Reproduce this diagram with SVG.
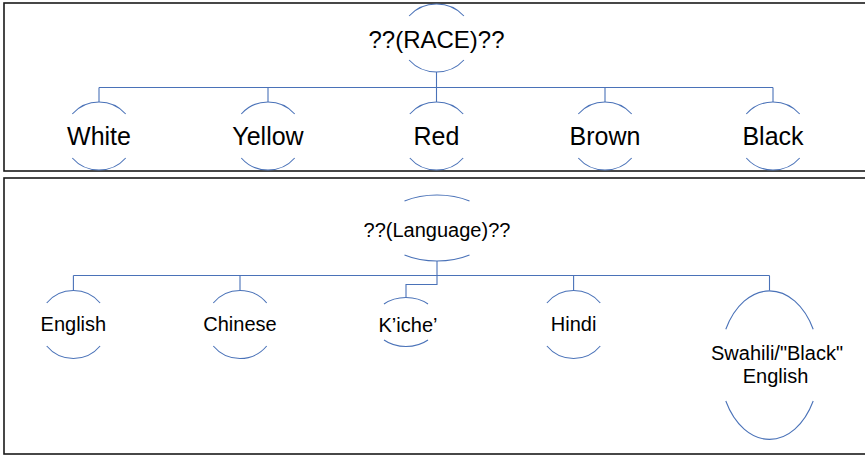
<svg xmlns="http://www.w3.org/2000/svg" width="865" height="457" viewBox="0 0 865 457">
<style>
.panel{fill:#fff;stroke:#1a1a1a;stroke-width:1.6}
.arc{fill:none;stroke:#4a72b8;stroke-width:1.1}
.conn{fill:none;stroke:#4a72b8;stroke-width:1.1}
text{font-family:"Liberation Sans",Arial,sans-serif;fill:#000;text-anchor:middle}
.t1{font-size:25px}
.t0{font-size:24px}
.t2{font-size:20px}
</style>
<rect width="865" height="457" fill="#fff"/>
<rect class="panel" x="4" y="3" width="875" height="168"/>
<rect class="panel" x="4" y="178" width="875" height="276"/>
<g id="connectors">
<path class="conn" d="M436.5,72 V87.5 M99,87.5 H773 M99,87.5 V102 M268,87.5 V102 M436.5,87.5 V102 M605,87.5 V102 M773,87.5 V102"/>
<path class="conn" d="M437,261 V275.5 M73.4,275.5 H769.5 M73.4,275.5 V290.5 M240,275.5 V290.5 M573.6,275.5 V290.5 M769.5,275.5 V290.5 M437,275.5 V284.5 H406 V297.5"/>
</g>
<g id="race">
<path class="arc" d="M409.1,16 A36 34 0 0 1 463.9,16 M409.1,60 A36 34 0 0 0 463.9,60"/>
<text class="t0" x="436.5" y="48">??(RACE)??</text>
</g>
<g id="white">
<path class="arc" d="M72.3,114 A35 34 0 0 1 125.7,114 M72.3,158 A35 34 0 0 0 125.7,158"/>
<text class="t1" x="99" y="145">White</text>
</g>
<g id="yellow">
<path class="arc" d="M241.3,114 A35 34 0 0 1 294.7,114 M241.3,158 A35 34 0 0 0 294.7,158"/>
<text class="t1" x="268" y="145">Yellow</text>
</g>
<g id="red">
<path class="arc" d="M409.8,114 A35 34 0 0 1 463.2,114 M409.8,158 A35 34 0 0 0 463.2,158"/>
<text class="t1" x="436.5" y="145">Red</text>
</g>
<g id="brown">
<path class="arc" d="M578.3,114 A35 34 0 0 1 631.7,114 M578.3,158 A35 34 0 0 0 631.7,158"/>
<text class="t1" x="605" y="145">Brown</text>
</g>
<g id="black">
<path class="arc" d="M746.3,114 A35 34 0 0 1 799.7,114 M746.3,158 A35 34 0 0 0 799.7,158"/>
<text class="t1" x="773" y="145">Black</text>
</g>
<g id="language">
<path class="arc" d="M404.5,201 A56.5 33 0 0 1 469.5,201 M404.5,255 A56.5 33 0 0 0 469.5,255"/>
<text class="t2" x="437" y="236.5">??(Language)??</text>
</g>
<g id="english">
<path class="arc" d="M46.7,303 A34.5 34 0 0 1 100.1,303 M46.7,346 A34.5 34 0 0 0 100.1,346"/>
<text class="t2" x="73.4" y="330.5">English</text>
</g>
<g id="chinese">
<path class="arc" d="M213.3,303 A34.5 34 0 0 1 266.7,303 M213.3,346 A34.5 34 0 0 0 266.7,346"/>
<text class="t2" x="240" y="330.5">Chinese</text>
</g>
<g id="kiche">
<path class="arc" d="M384,304 A32.4 24.5 0 0 1 428,304 M384,340 A32.4 24.5 0 0 0 428,340"/>
<text class="t2" x="408" y="331.5">K’iche’</text>
</g>
<g id="hindi">
<path class="arc" d="M546.9,303 A34.5 34 0 0 1 600.3,303 M546.9,346 A34.5 34 0 0 0 600.3,346"/>
<text class="t2" x="573.6" y="330.5">Hindi</text>
</g>
<g id="swahili">
<path class="arc" d="M725.8,329.3 A50 74.7 0 0 1 813.2,329.3 M725.8,401 A50 74.7 0 0 0 813.2,401"/>
<text class="t2" x="777" y="360">Swahili/"Black"</text>
<text class="t2" x="775.5" y="383">English</text>
</g>
</svg>
